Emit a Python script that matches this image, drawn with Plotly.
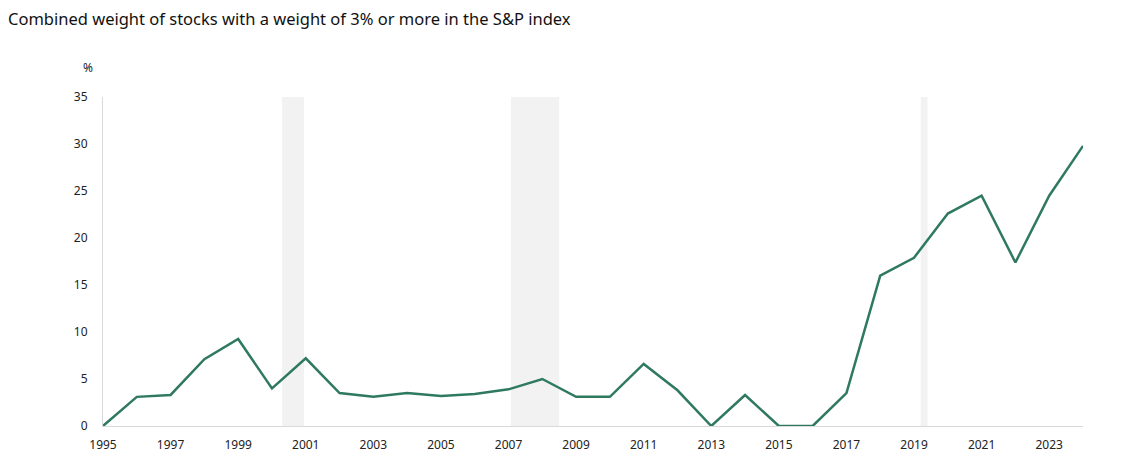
import plotly.graph_objects as go

years = list(range(1995, 2025))
weights = [0.0, 3.1, 3.3, 7.1, 9.25, 4.0, 7.2, 3.5, 3.1, 3.5, 3.2, 3.4, 3.9, 5.0,
           3.1, 3.1, 6.6, 3.8, 0.0, 3.3, 0.0, 0.0, 3.5, 16.0, 17.9, 22.6, 24.5,
           17.4, 24.5, 29.8]
recession_start = [2000.3, 2007.07, 2019.2]
recession_end = [2000.95, 2008.5, 2019.4]
x_ticks = list(range(1995, 2024, 2))
y_ticks = [0, 5, 10, 15, 20, 25, 30, 35]

fig = go.Figure()
fig.add_trace(go.Scatter(x=years, y=weights, mode="lines",
                         line=dict(color="#2f7a5f", width=2.5),
                         showlegend=False, hoverinfo="x+y"))

for s, e in zip(recession_start, recession_end):
    fig.add_vrect(x0=s, x1=e, fillcolor="#f2f2f2", line_width=0, layer="below")

fig.update_layout(
    width=1122, height=472,
    margin=dict(l=95, r=47, t=89, b=54),
    paper_bgcolor="white", plot_bgcolor="white",
    font=dict(family="Noto Sans, sans-serif", size=12, color="#222222"),
    title=dict(text="Combined weight of stocks with a weight of 3% or more in the S&P index",
               x=0.0, xanchor="left", y=0.976, yanchor="middle",
               font=dict(size=16.5, color="#111111")),
    xaxis=dict(range=[1995, 2024], tickvals=x_ticks, ticktext=[str(t) for t in x_ticks],
               showgrid=False, zeroline=False, showline=True, linecolor="#d9d9d9",
               linewidth=1, ticks="", ticklabelstandoff=8, tickfont=dict(size=12)),
    yaxis=dict(range=[0, 35], tickvals=y_ticks, showgrid=False, zeroline=False,
               showline=True, linecolor="#d9d9d9", linewidth=1, ticks="",
               ticklabelstandoff=12, tickfont=dict(size=12)),
    annotations=[dict(text="%", xref="paper", yref="paper", x=-0.008, y=1.09,
                      xanchor="right", yanchor="middle", showarrow=False,
                      font=dict(size=12, color="#222222"))],
)

fig.write_html("out.html")
